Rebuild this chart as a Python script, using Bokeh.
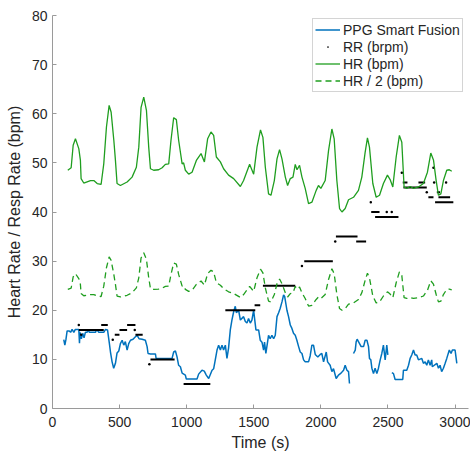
import math
from bokeh.plotting import figure
from bokeh.models import Legend, LegendItem, Range1d, FixedTicker
from bokeh.embed import file_html
from bokeh.resources import INLINE

NaN = float("nan")

# ---- PPG Smart Fusion (breaths/min), NaN = gap ----
ppg_t = [84, 92, 100, 109, 125, 135, 146, 159, 170, 196, 201, 205, 215, 225, 235, 245, 258, 265, 275, 320, 330, 345, 382, 395, 410,
         424, 432, 444, 456, 469, 481, 494, 506, 519, 531, 543, 556, 568, 581, 600, 618, 631, 645, 668, 692, 705, 712, 730, 767, 772,
         891, 903, 916, 928, 940, 953, 966, 990, 997, 1077, 1089, 1114, 1131, 1146, 1164, 1189, 1201, 1213, 1226, 1238, 1251, 1263,
         1275, 1288, 1300, 1312, 1325, 1337, 1350, 1362, 1370, 1387, 1400, 1424, 1437, 1449, 1461, 1474, 1486, 1499, 1506, 1516, 1536,
         1548, 1561, 1573, 1580, 1590, 1610, 1622, 1635, 1648, 1660, 1673, 1685, 1697, 1710, 1722, 1730, 1747, 1759, 1772, 1784, 1796,
         1809, 1821, 1834, 1846, 1859, 1871, 1883, 1908, 1920, 1933, 1945, 1958, 1977, 1995, 2007, 2020, 2040, 2050, 2069, 2082, 2094,
         2114, 2131, 2150, 2169, 2181, 2194, 2206, 2213,
         2228,
         2243, 2256, 2263, 2270, 2288, 2300, 2318, 2330, 2343, 2355, 2362, 2372, 2380, 2392, 2404, 2417, 2429, 2442, 2454, 2466, 2479,
         2491, 2499,
         2514,
         2529, 2541, 2553, 2610, 2615, 2640, 2653, 2665, 2677, 2690, 2702, 2714, 2727, 2752, 2764, 2777, 2789, 2801, 2814, 2826, 2830,
         2864, 2876, 2888, 2900, 2913, 2926, 2938, 2957, 2970, 2980, 3000, 3013]
ppg_v = [14.0, 12.9, 14.0, 15.8, 15.8, 15.5, 16.1, 15.5, 16.1, 16.1, 13.3, 15.5, 14.2, 15.3, 14.4, 15.5, 15.5, 16.1, 15.5, 15.5, 16.1,
         15.5, 15.5, 16.1, 16.0, 13.2, 11.5, 9.5, 8.2, 9.2, 11.3, 11.7, 13.2, 13.9, 12.9, 13.6, 11.9, 13.2, 13.9, 14.1, 14.6, 14.9, 14.2,
         14.1, 13.9, 12.6, 11.2, 11.1, 11.1, 10.2, 10.2, 11.5, 11.7, 10.5, 8.8, 8.5, 7.2, 6.8, 6.0, 6.0, 7.0, 7.8, 7.6, 6.8, 6.1, 7.8,
         8.1, 9.9, 11.9, 12.9, 11.9, 12.9, 11.9, 12.9, 10.2, 12.3, 16.0, 18.0, 19.7, 20.8, 19.5, 20.0, 18.0, 18.7, 17.7, 17.4, 18.3,
         17.4, 18.0, 20.0, 18.3, 16.0, 16.0, 13.9, 13.5, 11.9, 13.5, 11.2, 14.9, 14.2, 14.9, 14.2, 14.9, 18.7, 19.5, 20.4, 21.7, 23.1,
         22.8, 20.0, 18.7, 17.0, 16.3, 15.3, 14.9, 13.9, 12.6, 11.5, 11.2, 9.9, 9.5, 9.5, 10.7, 12.9, 12.9, 11.0, 10.5, 11.0, 11.2, 9.5,
         11.5, 9.5, 8.8, 7.5, 8.1, 6.1, 6.8, 7.2, 7.8, 8.8, 7.8, 7.5, 5.1,
         NaN,
         11.2, 11.9, 13.6, 14.1, 13.2, 12.6, 12.6, 13.9, 13.9, 12.6, 10.2, 9.9, 8.2, 7.1, 8.2, 7.1, 8.2, 9.9, 11.2, 12.9, 9.9, 12.9, 10.9,
         NaN,
         7.3, 7.1, 5.9, 5.9, 7.8, 7.8, 8.8, 10.2, 10.9, 11.9, 10.9, 10.9, 9.9, 10.2, 9.2, 9.5, 8.8, 9.9, 8.8, 9.9, 8.5, 9.2, 8.2, 8.8,
         7.5, 8.2, 9.2, 10.2, 11.9, 11.2, 11.9, 11.9, 9.2]

# ---- RR (brpm): runs of dots (start, end, value) and isolated dots ----
rr_start = [196, 363, 464, 499, 556, 618, 730, 977, 1288, 1506, 1568, 1876, 2112, 2263, 2375, 2404, 2610, 2615, 2727, 2801, 2864, 2876, 2851]
rr_end = [382, 412, 499, 556, 618, 672, 910, 1176, 1511, 1548, 1809, 2089, 2273, 2337, 2437, 2578, 2645, 2789, 2777, 2839, 2888, 2963, 2987]
rr_val = [16, 17, 15, 16, 17, 15, 10, 5, 20, 21, 25, 30, 35, 34, 40, 39, 46, 45, 46, 43, 44, 43, 42]
rr_dot_t = [196, 214, 449, 613, 722, 1859, 2107, 2372, 2491, 2528, 2603, 2789, 2839, 2844, 2933]
rr_dot_v = [17, 15, 14, 16, 9, 29, 34, 42, 40, 40, 48, 44, 49, 46, 46]

# ---- HR (bpm) ----
hr_t = [114, 139, 154, 171, 196, 208, 213, 233, 283, 308, 333, 362, 382, 402, 422, 437, 457, 469, 481, 506, 556, 593, 625, 643, 660,
        680, 700, 717, 730, 754, 791, 817, 841, 866, 883, 903, 923, 940, 966, 977, 990, 1015, 1040, 1072, 1107, 1132, 1156, 1181, 1201,
        1221, 1251, 1275, 1312, 1350, 1400, 1424, 1469, 1499, 1524, 1550, 1568, 1586, 1610, 1628, 1653, 1673, 1692, 1710, 1735, 1752,
        1772, 1792, 1809, 1822, 1841, 1859, 1883, 1908, 1933, 1965, 1982, 2000, 2032, 2057, 2082, 2099, 2119, 2139, 2157, 2181, 2206,
        2243, 2280, 2305, 2330, 2347, 2362, 2387, 2412, 2437, 2466, 2496, 2516, 2536, 2561, 2585, 2603, 2620, 2640, 2665, 2690, 2727,
        2764, 2794, 2819, 2839, 2859, 2876, 2894, 2913, 2938, 2957, 2975]
hr_v = [48.5, 49.0, 53.6, 54.9, 52.9, 50.5, 46.8, 45.9, 46.4, 46.4, 45.8, 45.6, 49.8, 57.3, 61.7, 60.3, 54.6, 50.5, 45.8, 45.4, 46.1,
        47.1, 49.1, 53.2, 61.3, 63.4, 60.7, 53.2, 48.8, 48.5, 48.6, 49.0, 49.7, 49.8, 54.6, 59.2, 58.8, 54.6, 49.8, 50.0, 48.5, 47.7,
        48.1, 50.5, 51.9, 50.2, 54.9, 56.3, 55.6, 51.2, 50.2, 48.8, 47.5, 46.8, 45.2, 46.4, 49.7, 47.7, 53.2, 56.7, 55.2, 49.1, 43.7,
        43.4, 46.4, 50.8, 52.7, 50.8, 47.1, 45.4, 46.8, 47.1, 49.7, 48.6, 49.5, 47.1, 44.8, 41.7, 42.0, 44.4, 45.4, 44.8, 46.4, 52.5,
        56.9, 54.9, 46.4, 40.7, 40.0, 40.7, 42.5, 43.0, 44.4, 47.1, 52.2, 55.1, 53.2, 45.8, 43.0, 43.4, 45.8, 47.5, 46.6, 45.1, 51.2,
        55.6, 54.2, 45.1, 44.8, 45.2, 44.8, 45.1, 45.8, 48.1, 52.0, 50.6, 46.4, 43.4, 43.7, 46.4, 48.5, 48.6, 48.3]
hr_half = [v / 2 for v in hr_v]

x_ticks = [0, 500, 1000, 1500, 2000, 2500, 3000]
y_ticks = [0, 10, 20, 30, 40, 50, 60, 70, 80]

FONT = "Liberation Sans"
BLUE = "#0072BD"
GREEN = "#1f9e1f"

p = figure(width=470, height=454, x_range=Range1d(0, 3100), y_range=Range1d(0, 80),
           output_backend="svg", toolbar_location=None,
           min_border_left=52, min_border_right=2, min_border_top=15, min_border_bottom=46)
p.outline_line_color = None
p.xgrid.visible = False
p.ygrid.visible = False
p.background_fill_color = "white"
p.border_fill_color = "white"

for ax in (p.xaxis[0], p.yaxis[0]):
    ax.axis_line_color = "#9a9a9a"
    ax.major_tick_line_color = "#9a9a9a"
    ax.minor_tick_line_color = None
    ax.major_tick_in = 4
    ax.major_tick_out = 0
    ax.major_label_text_font = FONT
    ax.major_label_text_font_size = "14px"
    ax.major_label_text_color = "#262626"
    ax.axis_label_text_font = FONT
    ax.axis_label_text_font_size = "16px"
    ax.axis_label_text_font_style = "normal"
    ax.axis_label_text_color = "#262626"

p.xaxis.ticker = FixedTicker(ticks=x_ticks)
p.yaxis.ticker = FixedTicker(ticks=y_ticks)
p.xaxis.axis_label = "Time (s)"
p.yaxis.axis_label = "Heart Rate / Resp Rate (bpm)"
p.xaxis.major_label_standoff = 8
p.yaxis.major_label_standoff = 5
p.xaxis.axis_label_standoff = 4
p.yaxis.axis_label_standoff = 6

r_ppg = p.line(ppg_t, ppg_v, line_color=BLUE, line_width=1.5)
p.segment(x0=rr_start, y0=rr_val, x1=rr_end, y1=rr_val, line_color="black", line_width=2.0)
r_rr = p.scatter(rr_dot_t, rr_dot_v, marker="dot", size=10, line_color="black", fill_color="black")
r_hr = p.line(hr_t, hr_v, line_color=GREEN, line_width=1.3)
r_hr2 = p.line(hr_t, hr_half, line_color=GREEN, line_width=1.3, line_dash="6 4")

legend = Legend(items=[
    LegendItem(label="PPG Smart Fusion", renderers=[r_ppg]),
    LegendItem(label="RR (brpm)", renderers=[r_rr]),
    LegendItem(label="HR (bpm)", renderers=[r_hr]),
    LegendItem(label="HR / 2 (bpm)", renderers=[r_hr2]),
], location=(260, 316))
legend.label_text_font = FONT
legend.label_text_font_size = "14px"
legend.label_text_color = "#262626"
legend.label_height = 17
legend.glyph_height = 17
legend.glyph_width = 25
legend.label_standoff = 3
legend.spacing = 0
legend.padding = 2
legend.margin = 0
legend.border_line_color = "#aaaaaa"
legend.border_line_width = 1
legend.background_fill_color = "white"
legend.background_fill_alpha = 1
p.add_layout(legend, "center")

open("out.html", "w").write(file_html(p, INLINE))
